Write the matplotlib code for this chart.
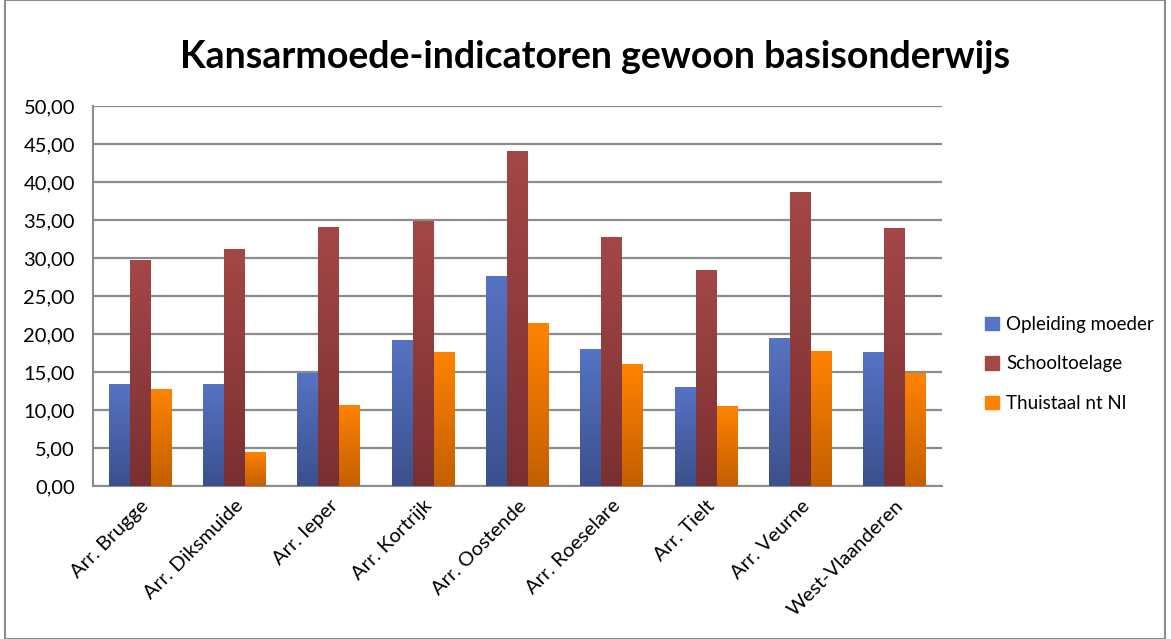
import matplotlib.pyplot as plt
import numpy as np
from matplotlib.colors import LinearSegmentedColormap
from matplotlib.patches import Rectangle
from matplotlib.ticker import FuncFormatter

plt.rcParams['font.family'] = ['Lato', 'DejaVu Sans']

categorieen = ['Arr. Brugge', 'Arr. Diksmuide', 'Arr. Ieper', 'Arr. Kortrijk', 'Arr. Oostende',
               'Arr. Roeselare', 'Arr. Tielt', 'Arr. Veurne', 'West-Vlaanderen']
opleiding_moeder = [13.40, 13.40, 14.85, 19.20, 27.60, 17.95, 13.00, 19.40, 17.55]
schooltoelage = [29.70, 31.15, 34.00, 34.85, 44.05, 32.70, 28.30, 38.65, 33.85]
thuistaal = [12.70, 4.45, 10.55, 17.55, 21.35, 15.95, 10.40, 17.65, 14.80]

reeksen = ['Opleiding moeder', 'Schooltoelage', 'Thuistaal nt Nl']
# kleur boven, kleur onder (verloop zoals in Excel)
kleuren = [('#5673c4', '#3b508c'), ('#a44747', '#7a2f31'), ('#ff8300', '#c35f00')]

fig = plt.figure(figsize=(11.71, 6.39), dpi=100)
ax = fig.add_axes([93 / 1171, 1 - 486 / 639, 849 / 1171, 380 / 639])

x = np.arange(len(categorieen))
breedte = 0.222
grad = np.linspace(0, 1, 256).reshape(-1, 1)

for i, (naam, waarden) in enumerate(zip(reeksen, [opleiding_moeder, schooltoelage, thuistaal])):
    cmap = LinearSegmentedColormap.from_list(naam, [kleuren[i][1], kleuren[i][0]])
    pos = x + (i - 1) * breedte
    bars = ax.bar(pos, waarden, breedte, color=kleuren[i][0], label=naam, zorder=2)
    for b in bars:
        bx, bw, bh = b.get_x(), b.get_width(), b.get_height()
        ax.imshow(grad, cmap=cmap, origin='lower', aspect='auto', zorder=3,
                  extent=(bx, bx + bw, 0, bh), interpolation='bilinear')

ax.set_xlim(-0.5, len(categorieen) - 0.5)
ax.set_ylim(0, 50)
ax.set_yticks(np.arange(0, 51, 5))
ax.yaxis.set_major_formatter(FuncFormatter(lambda v, p: f'{v:.2f}'.replace('.', ',')))
ax.grid(axis='y', color='#8c8c8c', linewidth=1.6, zorder=0)
ax.set_axisbelow(True)
for s in ['top', 'right']:
    ax.spines[s].set_visible(False)
ax.spines['left'].set_color('#8c8c8c')
ax.spines['bottom'].set_color('#8c8c8c')
ax.spines['left'].set_linewidth(1.5)
ax.spines['bottom'].set_linewidth(1.5)
ax.tick_params(axis='y', length=0, labelsize=14.5, pad=13)
ax.tick_params(axis='x', length=0, labelsize=14.5, pad=8)
ax.set_xticks(x)
ax.set_xticklabels(categorieen, rotation=45, ha='right', rotation_mode='anchor')

fig.suptitle('Kansarmoede-indicatoren gewoon basisonderwijs', x=595 / 1171, y=1 - 57 / 639,
             va='center', fontsize=27, fontweight='bold')

handles = [Rectangle((0, 0), 1, 1, color=k[0]) for k in kleuren]
fig.legend(handles, reeksen, loc='center left', bbox_to_anchor=(968 / 1171, 1 - 364 / 639),
           frameon=False, fontsize=13.5, handlelength=0.75, handleheight=0.75, handletextpad=0.4,
           labelspacing=1.2)

fig.add_artist(Rectangle((5 / 1171, 0), 1160 / 1171, 1, transform=fig.transFigure,
                         fill=False, edgecolor='#8c8c8c', linewidth=1.5))

fig.savefig('out.png', dpi=100)
